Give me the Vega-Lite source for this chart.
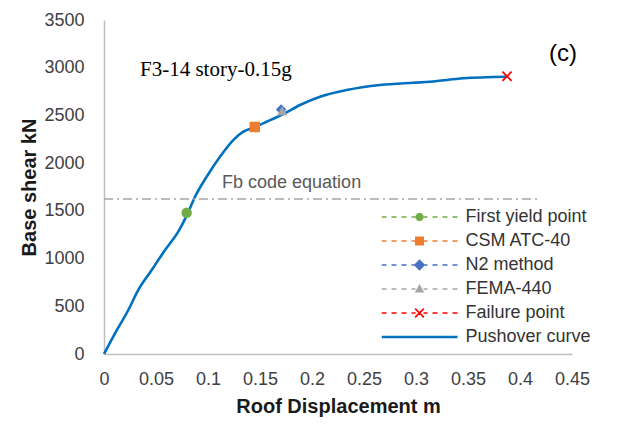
{
  "$schema": "https://vega.github.io/schema/vega-lite/v6.json",
  "width": 468,
  "height": 334,
  "autosize": {"type": "none"},
  "padding": {"left": 104, "top": 20, "right": 60, "bottom": 72},
  "background": "white",
  "config": {"view": {"stroke": null}, "font": "Liberation Sans"},
  "datasets": {
    "curve": [
      {"x": 0, "y": 0}, {"x": 0.0106, "y": 217}, {"x": 0.0234, "y": 461}, {"x": 0.033, "y": 671},
      {"x": 0.0459, "y": 880}, {"x": 0.0587, "y": 1090}, {"x": 0.0714, "y": 1282}, {"x": 0.0795, "y": 1450},
      {"x": 0.0875, "y": 1648}, {"x": 0.0987, "y": 1858}, {"x": 0.1115, "y": 2067}, {"x": 0.1243, "y": 2242},
      {"x": 0.134, "y": 2330}, {"x": 0.1436, "y": 2372}, {"x": 0.1564, "y": 2434}, {"x": 0.1724, "y": 2515},
      {"x": 0.1885, "y": 2609}, {"x": 0.2077, "y": 2696}, {"x": 0.2333, "y": 2766}, {"x": 0.2654, "y": 2819},
      {"x": 0.2974, "y": 2843}, {"x": 0.3135, "y": 2853}, {"x": 0.3455, "y": 2889}, {"x": 0.3872, "y": 2906}
    ],
    "markers": [
      {"series": "First yield point", "x": 0.0795, "y": 1480},
      {"series": "CSM ATC-40", "x": 0.145, "y": 2379},
      {"series": "N2 method", "x": 0.1703, "y": 2562},
      {"series": "FEMA-440", "x": 0.1713, "y": 2548},
      {"series": "Failure point", "x": 0.3875, "y": 2910}
    ],
    "fb": [{"label": "Fb", "x": 0, "x2": 0.42, "y": 1624}]
  },
  "resolve": {
    "scale": {"shape": "independent", "color": "independent"},
    "legend": {"shape": "independent", "color": "independent"}
  },
  "layer": [
    {
      "data": {"name": "curve"},
      "mark": {"type": "line", "color": "#0070C0", "strokeWidth": 2.6, "interpolate": "monotone"},
      "encoding": {
        "x": {
          "field": "x", "type": "quantitative",
          "scale": {"domain": [0, 0.45], "nice": false},
          "axis": {
            "title": "Roof Displacement m", "values": [0, 0.05, 0.1, 0.15, 0.2, 0.25, 0.3, 0.35, 0.4, 0.45],
            "format": ".2~f", "grid": false, "ticks": false, "domainColor": "#BFBFBF", "domainWidth": 1.5,
            "labelFont": "Liberation Sans", "labelFontSize": 18, "labelColor": "#404040", "labelPadding": 16,
            "labelFlush": false, "labelOverlap": false,
            "titleFont": "Liberation Sans", "titleFontSize": 20, "titleFontWeight": "bold", "titleColor": "#1a1a1a", "titlePadding": 8
          }
        },
        "y": {
          "field": "y", "type": "quantitative",
          "scale": {"domain": [0, 3500], "nice": false},
          "axis": {
            "title": "Base shear kN", "values": [0, 500, 1000, 1500, 2000, 2500, 3000, 3500], "format": "d",
            "grid": false, "ticks": false, "domainColor": "#BFBFBF", "domainWidth": 1.5,
            "labelFont": "Liberation Sans", "labelFontSize": 18, "labelColor": "#404040", "labelPadding": 20,
            "labelFlush": false, "labelOverlap": false,
            "titleFont": "Liberation Sans", "titleFontSize": 20, "titleFontWeight": "bold", "titleColor": "#1a1a1a", "titlePadding": 4
          }
        }
      }
    },
    {
      "data": {"name": "fb"},
      "mark": {"type": "rule", "color": "#A6A6A6", "strokeWidth": 1.3, "strokeDash": [9, 4, 2, 4]},
      "encoding": {
        "x": {"field": "x", "type": "quantitative", "scale": {"domain": [0, 0.45], "nice": false}},
        "x2": {"field": "x2"},
        "y": {"field": "y", "type": "quantitative", "scale": {"domain": [0, 3500], "nice": false}}
      }
    },
    {
      "data": {"name": "markers"},
      "mark": {"type": "point", "filled": true, "size": 100, "opacity": 0},
      "encoding": {
        "x": {"field": "x", "type": "quantitative", "scale": {"domain": [0, 0.45], "nice": false}},
        "y": {"field": "y", "type": "quantitative", "scale": {"domain": [0, 3500], "nice": false}},
        "color": {
          "field": "series", "type": "nominal",
          "scale": {
            "domain": ["First yield point", "CSM ATC-40", "N2 method", "FEMA-440", "Failure point", "Pushover curve"],
            "range": ["#70AD47", "#ED7D31", "#4472C4", "#A5A5A5", "#FF0000", "#0070C0"]
          },
          "legend": {
            "title": null, "orient": "none", "legendX": 277.5, "legendY": 186, "padding": 0,
            "symbolSize": 5776, "clipHeight": 22, "rowPadding": 2, "symbolStrokeWidth": 0, "symbolOpacity": 1,
            "labelFont": "Liberation Sans", "labelFontSize": 18, "labelColor": "#333333", "labelOffset": 8, "labelLimit": 300
          }
        },
        "shape": {
          "field": "series", "type": "nominal",
          "scale": {
            "domain": ["First yield point", "CSM ATC-40", "N2 method", "FEMA-440", "Failure point", "Pushover curve"],
            "range": [
              "M-1,-0.02H-0.868V0.02H-1Z M-0.737,-0.02H-0.605V0.02H-0.737Z M-0.474,-0.02H-0.342V0.02H-0.474Z M-0.211,-0.02H-0.105V0.02H-0.211Z M0.105,-0.02H0.211V0.02H0.105Z M0.342,-0.02H0.474V0.02H0.342Z M0.605,-0.02H0.737V0.02H0.605Z M0.868,-0.02H1V0.02H0.868Z M0.102,0.042L0.042,0.102L-0.042,0.102L-0.102,0.042L-0.102,-0.042L-0.042,-0.102L0.042,-0.102L0.102,-0.042Z",
              "M-1,-0.02H-0.868V0.02H-1Z M-0.737,-0.02H-0.605V0.02H-0.737Z M-0.474,-0.02H-0.342V0.02H-0.474Z M-0.211,-0.02H-0.105V0.02H-0.211Z M0.105,-0.02H0.211V0.02H0.105Z M0.342,-0.02H0.474V0.02H0.342Z M0.605,-0.02H0.737V0.02H0.605Z M0.868,-0.02H1V0.02H0.868Z M-0.118,-0.118H0.118V0.118H-0.118Z",
              "M-1,-0.02H-0.868V0.02H-1Z M-0.737,-0.02H-0.605V0.02H-0.737Z M-0.474,-0.02H-0.342V0.02H-0.474Z M-0.211,-0.02H-0.105V0.02H-0.211Z M0.105,-0.02H0.211V0.02H0.105Z M0.342,-0.02H0.474V0.02H0.342Z M0.605,-0.02H0.737V0.02H0.605Z M0.868,-0.02H1V0.02H0.868Z M0,-0.15L0.15,0L0,0.15L-0.15,0Z",
              "M-1,-0.02H-0.868V0.02H-1Z M-0.737,-0.02H-0.605V0.02H-0.737Z M-0.474,-0.02H-0.342V0.02H-0.474Z M-0.211,-0.02H-0.105V0.02H-0.211Z M0.105,-0.02H0.211V0.02H0.105Z M0.342,-0.02H0.474V0.02H0.342Z M0.605,-0.02H0.737V0.02H0.605Z M0.868,-0.02H1V0.02H0.868Z M0,-0.13L0.125,0.095H-0.125Z",
              "M-1,-0.02H-0.868V0.02H-1Z M-0.737,-0.02H-0.605V0.02H-0.737Z M-0.474,-0.02H-0.342V0.02H-0.474Z M-0.211,-0.02H-0.105V0.02H-0.211Z M0.105,-0.02H0.211V0.02H0.105Z M0.342,-0.02H0.474V0.02H0.342Z M0.605,-0.02H0.737V0.02H0.605Z M0.868,-0.02H1V0.02H0.868Z M-0.13,-0.1L-0.1,-0.13L0.13,0.1L0.1,0.13Z M0.1,-0.13L0.13,-0.1L-0.1,0.13L-0.13,0.1Z",
              "M-1,-0.035H1V0.035H-1Z"
            ]
          },
          "legend": {
            "title": null, "orient": "none", "legendX": 277.5, "legendY": 186, "padding": 0,
            "symbolSize": 5776, "clipHeight": 22, "rowPadding": 2, "symbolStrokeWidth": 0, "symbolOpacity": 1,
            "labelFont": "Liberation Sans", "labelFontSize": 18, "labelColor": "#333333", "labelOffset": 8, "labelLimit": 300
          }
        }
      }
    },
    {
      "data": {"name": "markers"},
      "mark": {"type": "point", "filled": true, "size": 110, "opacity": 1},
      "encoding": {
        "x": {"field": "x", "type": "quantitative", "scale": {"domain": [0, 0.45], "nice": false}},
        "y": {"field": "y", "type": "quantitative", "scale": {"domain": [0, 3500], "nice": false}},
        "color": {
          "field": "series", "type": "nominal",
          "scale": {
            "domain": ["First yield point", "CSM ATC-40", "N2 method", "FEMA-440", "Failure point", "Pushover curve"],
            "range": ["#70AD47", "#ED7D31", "#4472C4", "#A5A5A5", "#FF0000", "#0070C0"]
          },
          "legend": null
        },
        "shape": {
          "field": "series", "type": "nominal",
          "scale": {
            "domain": ["First yield point", "CSM ATC-40", "N2 method", "FEMA-440", "Failure point", "Pushover curve"],
            "range": ["circle", "square", "diamond", "triangle-up", "M-1,-0.75L-0.75,-1L1,0.75L0.75,1Z M0.75,-1L1,-0.75L-0.75,1L-1,0.75Z", "circle"]
          },
          "legend": null
        }
      }
    },
    {
      "data": {"values": [{"label": "F3-14 story-0.15g", "x": 0.0346, "y": 2976}]},
      "mark": {"type": "text", "font": "Liberation Serif", "fontSize": 21, "color": "#000000", "align": "left", "baseline": "middle"},
      "encoding": {
        "x": {"field": "x", "type": "quantitative", "scale": {"domain": [0, 0.45], "nice": false}},
        "y": {"field": "y", "type": "quantitative", "scale": {"domain": [0, 3500], "nice": false}},
        "text": {"field": "label"}
      }
    },
    {
      "data": {"values": [{"label": "Fb code equation", "x": 0.1135, "y": 1792}]},
      "mark": {"type": "text", "font": "Liberation Sans", "fontSize": 18, "color": "#595959", "align": "left", "baseline": "middle"},
      "encoding": {
        "x": {"field": "x", "type": "quantitative", "scale": {"domain": [0, 0.45], "nice": false}},
        "y": {"field": "y", "type": "quantitative", "scale": {"domain": [0, 3500], "nice": false}},
        "text": {"field": "label"}
      }
    },
    {
      "data": {"values": [{"label": "(c)", "x": 0.4413, "y": 3144}]},
      "mark": {"type": "text", "font": "Liberation Sans", "fontSize": 24, "color": "#000000", "align": "center", "baseline": "middle"},
      "encoding": {
        "x": {"field": "x", "type": "quantitative", "scale": {"domain": [0, 0.45], "nice": false}},
        "y": {"field": "y", "type": "quantitative", "scale": {"domain": [0, 3500], "nice": false}},
        "text": {"field": "label"}
      }
    }
  ]
}
